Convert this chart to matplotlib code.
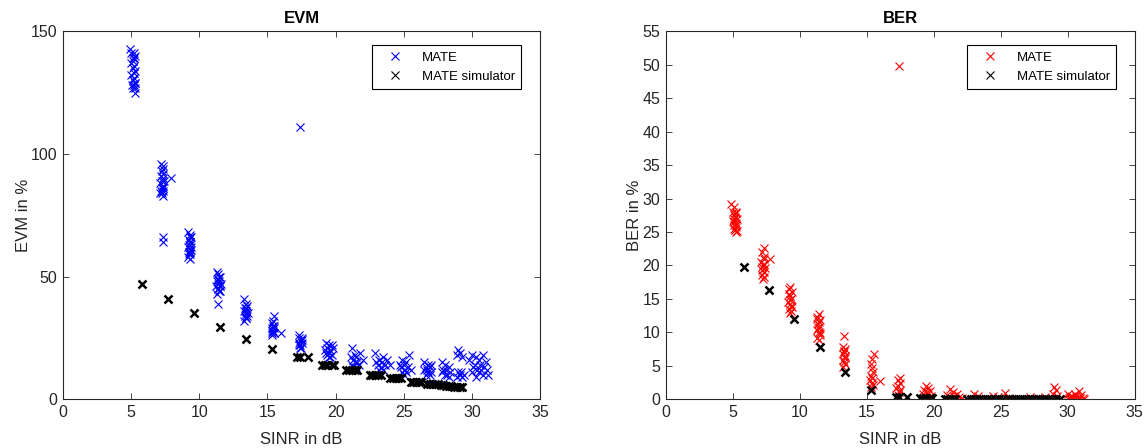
import matplotlib
matplotlib.use('Agg')
import matplotlib.pyplot as plt
import numpy as np

plt.rcParams['font.family'] = ['Liberation Sans', 'DejaVu Sans']

# EVM - MATE measurements (SINR in dB, EVM in %)
evm_mate_x = [4.9, 5.0, 5.2, 5.3, 5.1, 5.0, 5.2, 5.1, 5.3, 5.0, 5.2, 5.1, 5.25, 5.05, 5.15, 5.3, 5.2, 5.25,
              5.1, 5.2, 5.15, 5.25, 5.2,
              7.2, 7.3, 7.25, 7.35, 7.2, 7.3, 7.4, 7.15, 7.3, 7.25, 7.35, 7.2, 7.3, 7.1, 7.25, 7.3, 7.9, 7.3, 7.3,
              7.3, 7.25, 7.35,
              9.2, 9.3, 9.4, 9.25, 9.35, 9.3, 9.2, 9.4, 9.3, 9.25, 9.35, 9.3, 9.2, 9.4, 9.3, 9.25,
              9.35, 9.3, 9.25,
              11.3, 11.4, 11.5, 11.35, 11.45, 11.3, 11.6, 11.4, 11.25, 11.5, 11.4, 11.35, 11.45, 11.3, 11.5, 11.4,
              11.45, 11.35, 11.55,
              13.3, 13.4, 13.5, 13.35, 13.45, 13.3, 13.55, 13.4, 13.35, 13.5, 13.4, 13.3, 13.45, 13.4,
              15.5, 15.4, 15.3, 15.45, 15.35, 15.5, 15.3, 15.4, 15.45, 15.35, 16.0, 15.3, 15.4,
              17.4, 17.3, 17.5, 17.35, 17.45, 17.3, 17.5, 17.4, 17.35, 17.45, 17.4, 17.5,
              19.3, 19.5, 19.7, 19.8, 19.4, 19.6, 19.2, 19.5, 19.3, 19.7, 19.4, 19.6, 19.5,
              21.2, 21.8, 21.4, 21.1, 21.5, 21.3, 22.0, 21.6, 21.4, 21.2, 21.7, 21.5, 21.3,
              22.9, 23.5, 23.2, 23.8, 23.0, 23.4, 23.6, 23.1, 23.3, 24.0, 23.5, 23.2,
              25.4, 24.9, 25.2, 24.7, 25.0, 25.3, 24.8, 25.1, 25.5, 24.9, 25.2, 25.0,
              26.5, 26.8, 27.0, 26.6, 26.9, 26.7, 26.5, 27.0, 26.8, 26.6, 26.9,
              27.8, 28.0, 28.3, 27.9, 28.1, 28.4, 27.8, 28.2, 28.0, 28.3,
              29.0, 29.1, 28.9, 29.3, 29.0, 29.2, 29.4, 29.1, 28.9, 29.3,
              30.0, 30.3, 30.8, 29.8, 30.5, 31.0, 30.2, 30.6, 30.9, 30.1, 30.4, 30.7, 31.1, 30.0, 30.5, 30.8, 31.2, 30.3]
evm_mate_y = [143, 141, 141, 140, 139, 137, 136, 135, 134, 132, 131, 130, 129, 128, 127, 129, 128, 125,
              138, 133, 130, 127, 139,
              96, 95, 93, 92, 91, 90, 89, 88, 87, 86, 86, 85, 85, 84, 84, 83, 90, 66, 64,
              94, 89, 87,
              68, 67, 66, 65, 64, 63, 62, 62, 61, 60, 60, 59, 58, 61, 57, 63,
              66, 64, 59,
              52, 51, 50, 49, 48, 48, 47, 47, 46, 46, 45, 45, 44, 43, 44, 39,
              50, 49, 46,
              41, 39, 38, 37, 36, 36, 35, 35, 34, 34, 33, 32, 37, 33,
              34, 32, 31, 30, 29, 29, 28, 28, 27, 27, 27, 26, 30,
              111, 26, 25, 25, 24, 23, 23, 22, 22, 21, 21, 24,
              23, 22, 22, 21, 21, 20, 20, 19, 19, 18, 18, 17, 17,
              21, 19, 18, 17, 17, 16, 16, 15, 15, 14, 14, 13, 13,
              19, 17, 16, 16, 15, 15, 14, 14, 13, 14, 12, 12,
              18, 16, 15, 14, 14, 13, 13, 12, 12, 11, 11, 10,
              15, 14, 14, 13, 13, 12, 12, 11, 11, 10, 10,
              15, 14, 13, 12, 12, 11, 11, 10, 10, 9,
              20, 19, 18, 17, 11, 11, 10, 10, 9, 9,
              18, 17, 18, 16, 16, 15, 14, 14, 13, 13, 12, 12, 12, 11, 11, 10, 10, 9]

# EVM - simulator
evm_sim_x = [5.8, 7.7, 9.6, 11.5, 13.4, 15.3, 17.2, 17.4, 18.0, 19.0, 19.2, 19.4, 19.7, 19.9,
             20.8, 21.0, 21.2, 21.4, 21.6, 22.5, 22.7, 22.9, 23.1, 23.3, 24.0, 24.2, 24.4, 24.6, 24.8,
             25.5, 25.7, 25.9, 26.1, 26.3, 26.7, 26.9, 27.1, 27.3, 27.5, 27.7, 27.9, 28.1, 28.3,
             28.5, 28.7, 28.9, 29.1, 29.3]
evm_sim_y = [47, 41, 35, 29.5, 24.5, 20.5, 17, 17, 17, 14, 14, 14, 14, 14,
             12, 12, 12, 12, 12, 10, 10, 10, 10, 10, 8.5, 8.5, 8.5, 8.5, 8.5,
             7, 7, 7, 7, 7, 6.2, 6.2, 6.2, 6.0, 6.0, 5.8, 5.6, 5.5, 5.4,
             5.2, 5.1, 5.0, 4.9, 4.8]

# BER - MATE measurements
ber_mate_x = [4.9, 5.1, 5.0, 5.2, 5.05, 5.15, 5.3, 5.0, 5.2, 5.1, 5.25, 5.05, 5.15, 5.2, 5.1, 5.3,
              5.2, 5.1, 5.25,
              7.3, 7.2, 7.35, 7.8, 7.1, 7.3, 7.25, 7.4, 7.15, 7.3, 7.2, 7.35, 7.25, 7.3, 7.2,
              9.3, 9.2, 9.4, 9.25, 9.35, 9.15, 9.3, 9.4, 9.2, 9.35, 9.25, 9.3, 9.2, 9.35,
              11.4, 11.3, 11.5, 11.35, 11.45, 11.25, 11.4, 11.5, 11.3, 11.4, 11.35, 11.45, 11.3, 11.5,
              13.3, 13.2, 13.4, 13.3, 13.25, 13.35, 13.4, 13.2, 13.3, 13.35, 13.25, 13.3,
              15.5, 15.4, 15.3, 15.35, 15.45, 16.0, 15.3, 15.4, 15.2, 15.35, 15.45, 15.3,
              17.4, 17.5, 17.3, 17.45, 17.35, 17.2, 17.5, 17.4, 17.3,
              19.4, 19.6, 19.3, 19.7, 19.5, 19.2, 19.8, 19.4, 19.6,
              21.2, 21.4, 21.7, 21.0, 21.5, 21.9, 21.3, 22.1,
              23.0, 23.3, 23.6, 24.4, 24.8, 25.3, 25.6, 26.5, 27.2, 27.8, 28.3, 29.0, 29.1, 28.9, 29.2,
              30.0, 30.3, 30.8, 30.5, 31.0, 30.2, 30.6, 30.9, 30.1, 30.4, 30.7, 31.1, 30.0, 30.5, 30.8, 31.2]
ber_mate_y = [29.2, 28.7, 28, 28, 27.5, 27.2, 27, 26.7, 26.3, 26, 25.8, 25.5, 25.3, 25, 26.5, 25.2,
              27.8, 27.0, 26.0,
              22.6, 22, 21.3, 20.9, 20.5, 20.2, 20, 19.6, 19.3, 19, 18.6, 18.2, 18, 21.0, 19.8,
              16.8, 16.4, 16, 15.5, 15, 14.6, 14.2, 13.8, 13.5, 13.2, 12.9, 14.8, 15.8, 14.0,
              12.8, 12.3, 11.8, 11.3, 10.8, 10.4, 10, 9.6, 9.2, 8.9, 10.6, 11.5, 12.0, 9.9,
              9.5, 7.8, 7.5, 7.2, 6.8, 6.5, 6.2, 5.8, 5.5, 5.2, 4.8, 7.0,
              6.8, 6, 5.2, 4.6, 4, 2.7, 3.5, 3.1, 2.8, 2.4, 2.1, 1.8,
              49.8, 3.2, 2.8, 2.4, 2.0, 1.7, 1.4, 1.0, 0.6,
              1.9, 1.6, 1.4, 1.2, 1.0, 0.8, 0.5, 0.3, 0.1,
              1.5, 1.0, 0.8, 0.6, 0.5, 0.3, 0.2, 0.1,
              0.7, 0.5, 0.0, 0.4, 0.3, 0.9, 0.2, 0.0, 0.3, 0.2, 0.3, 1.8, 1.3, 0.8, 0.5,
              0.7, 0.5, 1.2, 0.8, 0.6, 0.3, 0.4, 0.2, 0.1, 0.2, 0.0, 0.1, 0.0, 0.0, 0.3, 0.0]

# BER - simulator
ber_sim_x = [5.8, 7.7, 9.6, 11.5, 13.4, 15.3, 17.2, 17.4, 18.0, 19.0, 19.2, 19.4, 19.7, 19.9,
             20.8, 21.0, 21.2, 21.4, 21.6, 22.5, 22.8, 23.1, 23.4, 23.7, 24.0, 24.3, 24.6, 24.9,
             25.2, 25.5, 25.8, 26.1, 26.4, 26.7, 27.0, 27.3, 27.6, 27.9, 28.2, 28.5, 28.8, 29.1, 29.4]
ber_sim_y = [19.8, 16.3, 12, 7.8, 4, 1.3, 0.3, 0.3, 0.3, 0.1, 0.1, 0.1, 0.1, 0.1,
             0.05, 0.05, 0.05, 0.05, 0.05, 0, 0, 0, 0, 0, 0, 0, 0, 0,
             0, 0, 0, 0, 0, 0, 0, 0, 0, 0, 0, 0, 0, 0, 0]

fig = plt.figure(figsize=(11.48, 4.48), dpi=100)
ax1 = fig.add_axes([0.0549, 0.109, 0.4155, 0.821])
ax2 = fig.add_axes([0.580, 0.109, 0.4085, 0.821])

gray = (0.15, 0.15, 0.15)

def style(ax, ymax, yticks, ylabel, title):
    ax.set_xlim(0, 35)
    ax.set_ylim(0, ymax)
    ax.set_xticks(range(0, 36, 5))
    ax.set_yticks(yticks)
    ax.tick_params(direction='in', top=True, right=True, length=4, width=0.6,
                   colors=gray, labelsize=11.5, pad=4)
    for s in ax.spines.values():
        s.set_color(gray)
        s.set_linewidth(0.8)
    ax.set_xlabel('SINR in dB', fontsize=12, color=gray, labelpad=9)
    ax.set_ylabel(ylabel, fontsize=12, color=gray, labelpad=0)
    ax.set_title(title, fontsize=12, fontweight='bold', pad=6)

ax1.plot(evm_mate_x, evm_mate_y, ls='none', marker='x', color='b', ms=6, mew=0.8, label='MATE')
ax1.plot(evm_sim_x, evm_sim_y, ls='none', marker='x', color='k', ms=6, mew=1.8, label='MATE simulator')
style(ax1, 150, [0, 50, 100, 150], 'EVM in %', 'EVM')

ax2.plot(ber_mate_x, ber_mate_y, ls='none', marker='x', color='r', ms=6, mew=0.8, label='MATE')
ax2.plot(ber_sim_x, ber_sim_y, ls='none', marker='x', color='k', ms=6, mew=1.8, label='MATE simulator')
style(ax2, 55, range(0, 56, 5), 'BER in %', 'BER')

for ax in (ax1, ax2):
    leg = ax.legend(loc='upper right', bbox_to_anchor=(0.96, 0.962), fontsize=9.5,
                    fancybox=False, framealpha=1, edgecolor='k', borderpad=0.45,
                    borderaxespad=0, handlelength=2.5, handletextpad=0.8, labelspacing=0.55)
    leg.get_frame().set_linewidth(0.8)
    for h in leg.legend_handles:
        h.set_markeredgewidth(0.8)

fig.savefig('out.png', dpi=100)
